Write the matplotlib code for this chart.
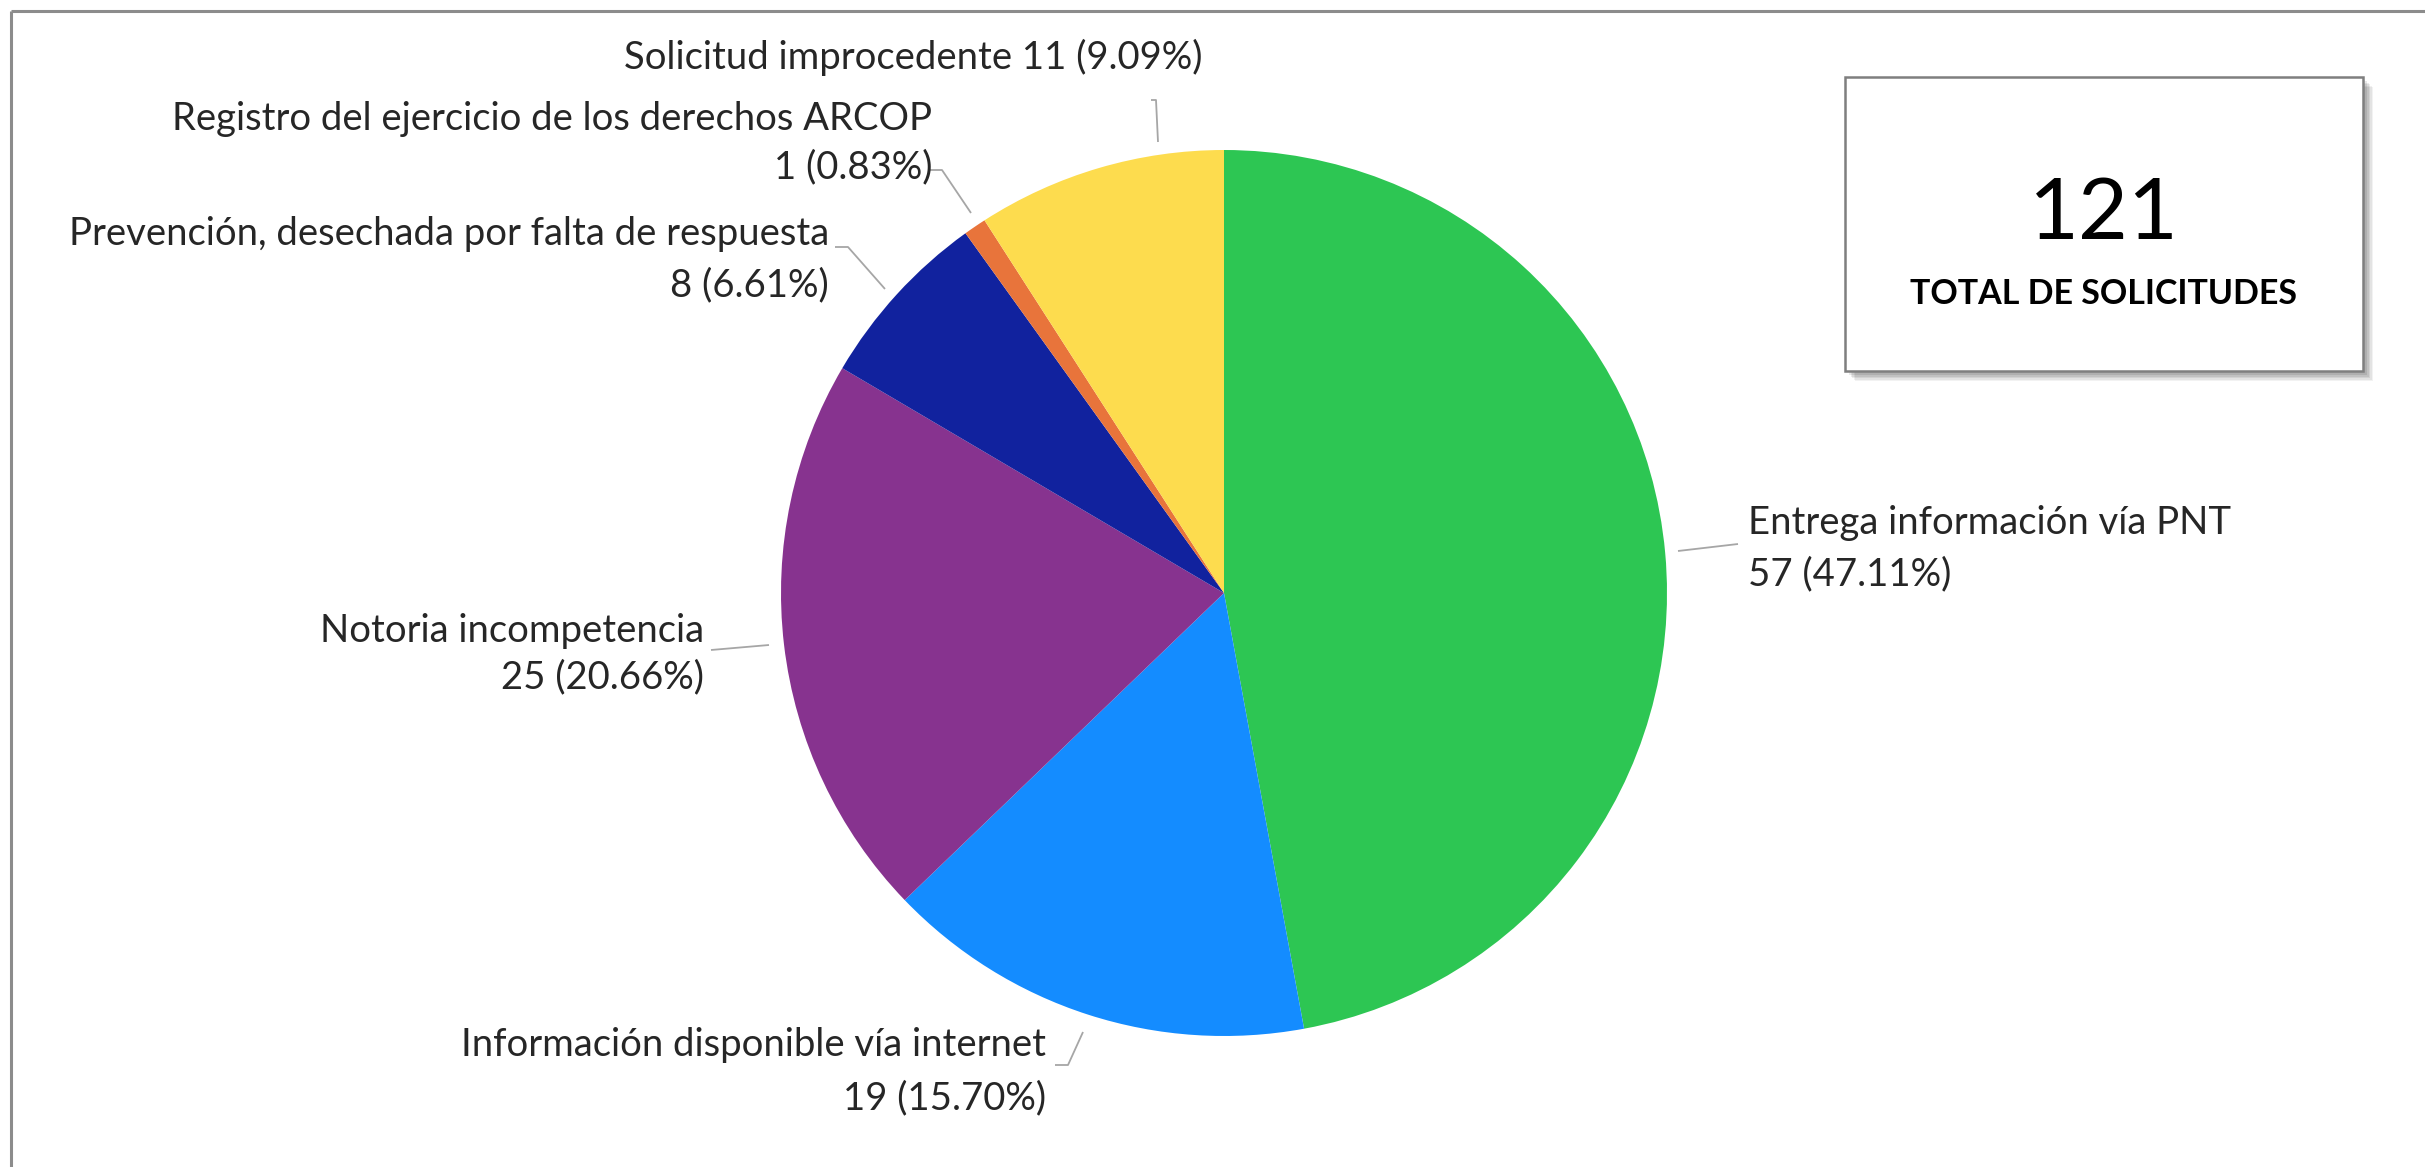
import matplotlib.pyplot as plt
from matplotlib.patches import Rectangle

# Data
categories = ['Entrega información vía PNT', 'Información disponible vía internet',
              'Notoria incompetencia', 'Prevención, desechada por falta de respuesta',
              'Registro del ejercicio de los derechos ARCOP', 'Solicitud improcedente']
counts = [57, 19, 25, 8, 1, 11]
colors = ['#2DC653', '#148CFF', '#87338F', '#11229E', '#E8743B', '#FDDC4E']
total = sum(counts)

W, H = 2425, 1167
plt.rcParams['font.family'] = ['Lato', 'DejaVu Sans']
fig = plt.figure(figsize=(W / 100, H / 100), dpi=100)
ax = fig.add_axes([0, 0, 1, 1])

# pie in pixel coordinates (y up)
cx, cy, r = 1224, H - 593, 443
ax.pie(counts, colors=colors, startangle=90, counterclock=False,
       center=(cx, cy), radius=r, wedgeprops=dict(linewidth=0))
ax.set_xlim(0, W)
ax.set_ylim(0, H)
ax.set_aspect('equal')
ax.axis('off')

txt = '#262626'
fs = 27.5
lc = '#A6A6A6'

def Y(y):
    return H - y

def lbl(i):
    pct = counts[i] / total * 100
    return f'{counts[i]} ({pct:.2f}%)'

# label layout: (x, y first line, y second line, ha)
layout = {
    0: (1748, 523, 574, 'left'),
    1: (1046, 1045, 1098, 'right'),
    2: (704, 631, 677, 'right'),
    3: (829, 234, 285, 'right'),
    4: (932, 119, 167, 'right'),
}
for i, (x, y1, y2, ha) in layout.items():
    ax.text(x, Y(y1), categories[i], ha=ha, va='center', fontsize=fs, color=txt)
    ax.text(x, Y(y2), lbl(i), ha=ha, va='center', fontsize=fs, color=txt)
ax.text(1203, Y(57), f'{categories[5]} {lbl(5)}', ha='right', va='center',
        fontsize=fs, color=txt)

# leader lines
leaders = [
    [(1678, 551), (1738, 544)],
    [(1055, 1065), (1068, 1065), (1083, 1032)],
    [(711, 650), (769, 645)],
    [(835, 247), (848, 247), (885, 289)],
    [(928, 170), (942, 170), (971, 213)],
    [(1151, 100), (1156, 100), (1158, 142)],
]
for pts in leaders:
    ax.plot([p[0] for p in pts], [Y(p[1]) for p in pts], color=lc, lw=1.3,
            solid_capstyle='butt')

# total box with soft shadow
bx, by, bw, bh = 1845, 77, 518, 294
for k, a in enumerate([0.05, 0.06, 0.07, 0.08, 0.09]):
    off = 12 - k * 1.5
    ax.add_patch(Rectangle((bx + off - 2, Y(by + bh) - off + 2), bw, bh,
                           facecolor='#000000', edgecolor='none', alpha=a))
ax.add_patch(Rectangle((bx, Y(by + bh)), bw, bh, facecolor='white',
                       edgecolor='#7F7F7F', lw=1.8, zorder=3))
ax.text(bx + bw / 2, Y(215), str(total), ha='center', va='center',
        fontsize=62, color='black', zorder=4)
ax.text(bx + bw / 2, Y(294), 'TOTAL DE SOLICITUDES', ha='center', va='center',
        fontsize=24.5, fontweight='bold', color='black', zorder=4)

# outer frame (top and left edges visible)
ax.plot([11, W], [Y(11), Y(11)], color='#8C8C8C', lw=2.2, solid_capstyle='butt')
ax.plot([11, 11], [Y(11), 0], color='#8C8C8C', lw=2.2, solid_capstyle='butt')

fig.savefig('out.png', dpi=100, facecolor='white')
